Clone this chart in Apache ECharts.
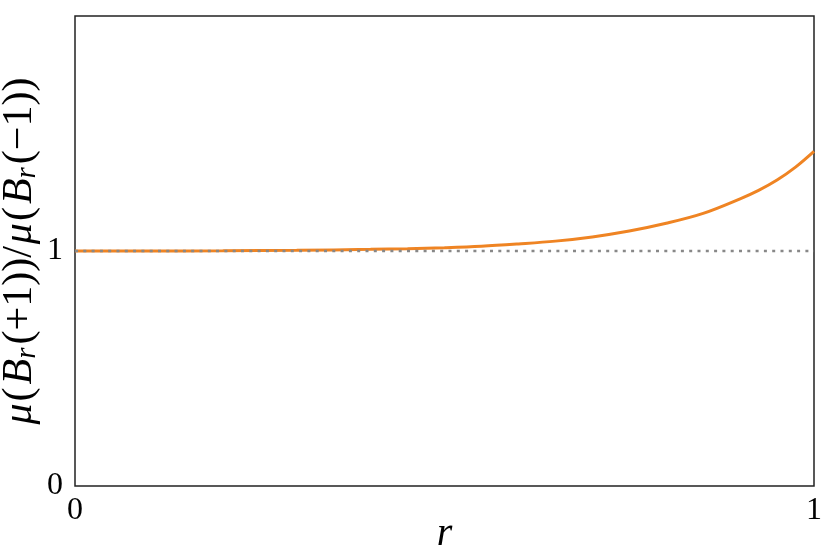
<!DOCTYPE html>
<html>
<head>
<meta charset="utf-8">
<script src="https://cdn.jsdelivr.net/npm/echarts@6/dist/echarts.min.js"></script>
<style>
html,body{margin:0;padding:0;background:#fff;}
#chart{width:830px;height:554px;}
</style>
</head>
<body>
<div id="chart"></div>
<script>
// r values and ratio values
const rValues = [0, 0.1, 0.2, 0.3, 0.4, 0.45, 0.5, 0.55, 0.6, 0.65, 0.7, 0.75, 0.8, 0.85, 0.9, 0.925, 0.95, 0.975, 1.0];
const ratioValues = [1.000, 1.000, 1.001, 1.003, 1.007, 1.010, 1.014, 1.020, 1.030, 1.042, 1.060, 1.085, 1.118, 1.160, 1.222, 1.258, 1.302, 1.357, 1.424];
const refR = [0, 1];
const refValues = [1, 1];
const xTicks = [0, 1];
const yTicks = [0, 1];

const FONT = '"Liberation Serif", "DejaVu Serif", serif';
const chart = echarts.init(document.getElementById('chart'));
const LBL = 42;
const rich = {
  m: {fontFamily: FONT, fontSize: LBL, color: '#000', lineHeight: 50, verticalAlign: 'middle', padding: [0, 1, 0, 1]},
  g: {fontFamily: FONT, fontSize: LBL, fontStyle: 'italic', color: '#000', lineHeight: 50, verticalAlign: 'middle', padding: [0, 1, 0, 1]},
  b: {fontFamily: FONT, fontSize: LBL, fontStyle: 'italic', color: '#000', lineHeight: 50, verticalAlign: 'middle', padding: [0, 0, 0, 2]},
  s: {fontFamily: FONT, fontSize: 29, fontStyle: 'italic', color: '#000', lineHeight: 50, verticalAlign: 'bottom', padding: [0, 2, 3, 0]}
};
chart.setOption({
  animation: false,
  backgroundColor: '#fff',
  grid: {left: 75, right: 16, top: 16, bottom: 68, outerBoundsMode: 'none', containLabel: false,
         show: true, borderColor: '#222', borderWidth: 1.5, backgroundColor: 'transparent'},
  xAxis: {
    type: 'value', min: 0, max: 1, interval: 1,
    axisLine: {show: false}, axisTick: {show: false}, splitLine: {show: false},
    axisLabel: {
      fontFamily: FONT, fontSize: 32, color: '#000', margin: 9,
      formatter: v => xTicks.includes(v) ? String(v) : ''
    },
    name: 'r', nameLocation: 'middle', nameGap: 28, nameMoveOverlap: false,
    nameTextStyle: {fontFamily: FONT, fontSize: 40, fontStyle: 'italic', color: '#000', lineHeight: 40}
  },
  yAxis: {
    type: 'value', min: 0, max: 2, interval: 1,
    axisLine: {show: false}, axisTick: {show: false}, splitLine: {show: false},
    axisLabel: {
      fontFamily: FONT, fontSize: 32, color: '#000', margin: 12,
      formatter: v => yTicks.includes(v) ? String(v) : ''
    },
    name: '{g|μ}{m|(}{b|B}{s|r}{m|(+1))/}{g|μ}{m|(}{b|B}{s|r}{m|(−1))}',
    nameLocation: 'middle', nameGap: 30, nameMoveOverlap: false,
    nameTextStyle: {color: '#000', rich: rich}
  },
  series: [
    {
      type: 'line', data: refR.map((r, i) => [r, refValues[i]]),
      showSymbol: false, silent: true, z: 3,
      lineStyle: {color: '#888', width: 2.5, type: [3, 5.3]}
    },
    {
      type: 'line', data: rValues.map((r, i) => [r, ratioValues[i]]),
      smooth: 0.35, showSymbol: false, silent: true, z: 2,
      lineStyle: {color: '#EF8423', width: 3}
    }
  ]
});
</script>
</body>
</html>
